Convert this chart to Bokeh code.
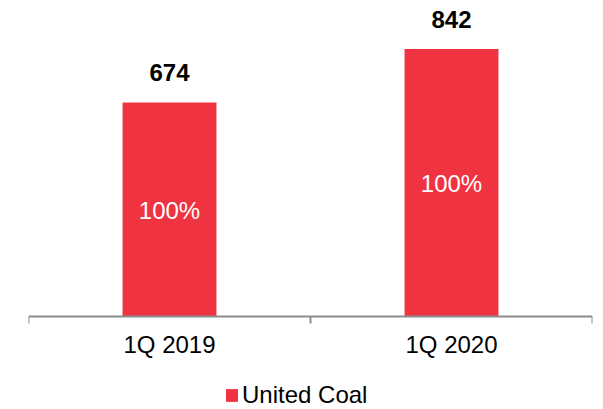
from bokeh.plotting import figure
from bokeh.models import ColumnDataSource, FixedTicker, Range1d, Legend, LegendItem
from bokeh.core.properties import value
from bokeh.embed import file_html
from bokeh.resources import INLINE

categories = ["1Q 2019", "1Q 2020"]
totals = [674, 842]
shares = [100, 100]
series_name = "United Coal"

BAR_COLOR = "#EF3340"
AXIS_COLOR = "#8C8C8C"
FONT = "Liberation Sans"
FS = "24px"

xs = [i + 0.5 for i in range(len(categories))]
src = ColumnDataSource(dict(
    x=xs,
    top=totals,
    total_lbl=[str(v) for v in totals],
    mid=[v / 2 for v in totals],
    share_lbl=[f"{s}%" for s in shares],
))

p = figure(width=603, height=409, output_backend="svg", toolbar_location=None,
           x_range=Range1d(0, len(categories)), y_range=Range1d(-293, 995),
           y_axis_location=None, min_border_left=28, min_border_right=11,
           min_border_top=0, min_border_bottom=0)
p.outline_line_color = None
p.grid.visible = False
p.background_fill_color = "white"

bars = p.vbar(x="x", top="top", width=0.333, bottom=0, source=src,
              fill_color=BAR_COLOR, line_color=None)

p.text(x="x", y="top", text="total_lbl", source=src, text_align="center",
       text_baseline="middle", y_offset=-30, text_font=value(FONT),
       text_font_size=FS, text_font_style="bold", text_color="black")
p.text(x="x", y="mid", text="share_lbl", source=src, text_align="center",
       text_baseline="middle", y_offset=1, text_font=value(FONT),
       text_font_size=FS, text_color="white")

ax = p.xaxis[0]
ax.fixed_location = 0
ax.ticker = FixedTicker(ticks=xs, minor_ticks=list(range(len(categories) + 1)))
ax.major_label_overrides = {x: c for x, c in zip(xs, categories)}
ax.major_tick_out = 0
ax.major_tick_in = 0
ax.minor_tick_out = 7
ax.minor_tick_in = 0
ax.minor_tick_line_color = AXIS_COLOR
ax.minor_tick_line_width = 2
ax.axis_line_color = AXIS_COLOR
ax.axis_line_width = 2
ax.major_label_standoff = 8
ax.major_label_text_font = FONT
ax.major_label_text_font_size = FS
ax.major_label_text_color = "black"

lg = Legend(items=[LegendItem(label=series_name, renderers=[bars])],
            location=(196, 0), orientation="horizontal")
lg.padding = 0
lg.margin = 0
lg.border_line_color = None
lg.background_fill_alpha = 0
lg.glyph_width = 15
lg.glyph_height = 16
lg.label_standoff = 3
lg.label_text_font = FONT
lg.label_text_font_size = FS
lg.label_text_color = "black"
p.add_layout(lg, "center")

open("out.html", "w").write(file_html(p, INLINE))
